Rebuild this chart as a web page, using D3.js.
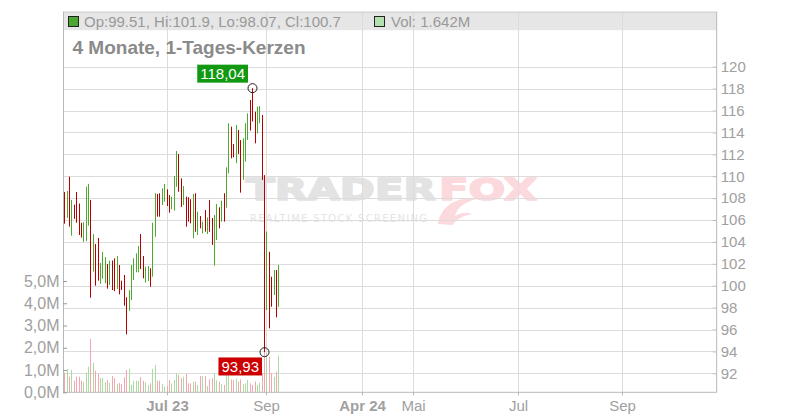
<!DOCTYPE html>
<html><head><meta charset="utf-8">
<script src="https://cdn.jsdelivr.net/npm/d3@7/dist/d3.min.js"></script>
<style>
html,body{margin:0;padding:0;background:#fff;}
svg{display:block;font-family:"Liberation Sans",Arial,sans-serif;}
</style></head>
<body>
<svg id="chart" width="800" height="420"></svg>
<script>
// ---- data ----
const highs = [108.56,108.65,109.96,107.83,107.4,108.56,107.5,105.75,105.8,109.04,
  109.3,107.83,104.72,103.8,104.36,102.07,103.1,102.62,101.98,102.28,
  102.3,102.5,102.7,101.89,100.46,100.98,98.94,99.6,101.89,102.5,
  102.96,103.63,104.72,102.71,101.74,101.8,101.59,105.75,108.44,108.38,
  108.44,108.9,109.29,108.8,108.28,108.13,110.02,112.3,112.03,109.8,
  109.1,108.13,108.07,107.89,108.37,108.44,106.76,106.36,105.85,106.91,
  106.24,107.83,106.18,106.46,107.46,107.16,107.76,108.44,110.81,114.83,
  114.52,112.94,114.68,114.22,113.3,113.46,114.83,115.74,116.96,118.04,
  115.89,116.35,116.41,115.59,110.1,104.95,103.1,100.82,101.43,101.43,101.9];
const lows = [105.66,106.2,105.4,104.57,106.1,105.75,104.63,104.4,104.0,104.08,
  105.48,98.9,101.28,100.0,100.46,100.18,100.64,100.22,99.73,100.06,
  99.6,99.5,99.7,99.21,99.6,98.17,95.56,97.7,98.7,100.52,
  101.23,101.23,101.52,100.67,100.28,100.43,99.9,100.82,104.47,106.3,
  106.3,107.37,107.67,107.28,106.67,106.98,106.85,109.04,108.58,107.2,
  107.37,105.39,105.85,105.7,104.33,104.93,104.63,105.24,104.78,104.93,
  104.72,104.93,103.72,101.83,104.17,105.24,105.85,105.85,107.12,110.26,
  111.63,111.73,111.18,112.03,108.5,109.66,111.33,113.31,114.16,115.0,
  113.0,113.92,114.83,109.65,93.93,97.78,96.1,98.08,99.15,97.11,98.07];
// u = close above open (green), d = close below open (red)
const dirs = ("d u d u d d d d u u u d u d d u u u d u d d u d d d d u u u " +
  "u u d d u u d u u d d u u d d u u u d d u d d d u d u d u d " +
  "u d d u u d u d u u d d u d d u u u d d d u u d d u d d u d u").split(" ");
const volumes = [0.88,1.04,0.70,1.00,0.52,0.70,0.70,0.52,0.46,0.88,
  1.15,2.40,1.33,0.97,0.82,0.64,0.64,0.46,0.55,0.42,
  0.73,0.64,0.37,0.42,0.37,0.68,1.00,1.05,0.33,0.52,
  0.52,0.52,0.68,0.52,0.45,0.33,0.40,1.05,1.23,0.52,
  0.52,0.37,0.25,0.28,0.55,0.40,0.55,0.85,0.78,0.63,
  0.70,0.82,0.40,0.40,0.48,0.48,0.33,0.73,0.73,0.73,
  0.28,0.58,0.63,0.86,0.55,0.48,0.37,0.33,0.78,1.00,
  0.58,0.55,0.62,0.48,0.58,0.37,0.40,0.55,0.40,0.33,
  0.48,0.33,0.43,0.86,1.80,1.76,1.60,0.86,0.70,0.93,1.642].map(v => v * 1e6);
const lastBar = {op: "99.51", hi: "101.9", lo: "98.07", cl: "100.7", vol: "1.642M"};
const titleText = "4 Monate, 1-Tages-Kerzen";
const priceTicks = [92,94,96,98,100,102,104,106,108,110,112,114,116,118,120];
const volTicks = [0,1e6,2e6,3e6,4e6,5e6];
const timeTickSlots = [43.0, 84.7, 125.1, 146.8, 190.9, 234.6];
const timeTickLabels = ["Jul 23","Sep","Apr 24","Mai","Jul","Sep"];
const timeTickBold = [true,false,true,false,false,false];
const maxLabel = "118,04", minLabel = "93,93";

// ---- layout ----
const L = 63, R = 716.7, T = 11.7, B = 392.3;
const svg = d3.select("#chart");
const x = d3.scaleLinear().domain([0, 90]).range([64.3, 278.3]);
const y = d3.scaleLinear().domain([92, 120]).range([373.3, 66.7]);
const yv = d3.scaleLinear().domain([0, 5e6]).range([B, 281]);
const px = i => Math.round(x(i)) + 0.5;
const GRID = "#dcdcdc", AX = "#b8b8b8", LBL = "#a0a0a0";
const GREEN = "#4caa2c", RED = "#b30000";

// header band
svg.append("rect").attr("x", L).attr("y", T).attr("width", R - L).attr("height", 18.5).attr("fill", "#e6e6e6");

// watermark
const wm = svg.append("g");
wm.append("text").attr("x", 246).attr("y", 200).text("TRADER")
  .attr("font-family", "DejaVu Sans").attr("font-weight", "bold").attr("font-size", 30)
  .attr("textLength", 190).attr("lengthAdjust", "spacingAndGlyphs").attr("fill", "#e3e3e3")
  .attr("stroke", "#e3e3e3").attr("stroke-width", 1.6).attr("stroke-linejoin", "round");
wm.append("text").attr("x", 439).attr("y", 200).text("FOX")
  .attr("font-family", "DejaVu Sans").attr("font-weight", "bold").attr("font-size", 30)
  .attr("textLength", 98).attr("lengthAdjust", "spacingAndGlyphs").attr("fill", "#fbd9dd")
  .attr("stroke", "#fbd9dd").attr("stroke-width", 1.6).attr("stroke-linejoin", "round");
wm.append("text").attr("x", 250).attr("y", 222).text("REALTIME STOCK SCREENING")
  .attr("font-family", "DejaVu Sans").attr("font-size", 10)
  .attr("textLength", 177).attr("lengthAdjust", "spacing").attr("fill", "#e4e4e4");
wm.append("path").attr("d", "M438,224 C440,208 455,196 476,199 C462,203 456,210 455,216 C462,212 468,212 472,214 C462,216 456,220 452,225 Z")
  .attr("fill", "#fbd9dd");

// gridlines
svg.append("g").selectAll("line").data(priceTicks).join("line")
  .attr("x1", L).attr("x2", R - 3.5).attr("y1", d => Math.round(y(d)) + 0.5).attr("y2", d => Math.round(y(d)) + 0.5)
  .attr("stroke", GRID).attr("stroke-width", 1);
svg.append("g").selectAll("line").data(timeTickSlots).join("line")
  .attr("x1", d => Math.round(x(d)) + 0.5).attr("x2", d => Math.round(x(d)) + 0.5).attr("y1", T).attr("y2", B)
  .attr("stroke", GRID).attr("stroke-width", 1);

// frame lines
svg.append("line").attr("x1", L).attr("x2", R).attr("y1", T + 0.5).attr("y2", T + 0.5).attr("stroke", "#cccccc");
svg.append("line").attr("x1", L + 0.5).attr("x2", L + 0.5).attr("y1", T).attr("y2", B).attr("stroke", AX);
svg.append("line").attr("x1", R).attr("x2", R).attr("y1", T).attr("y2", B).attr("stroke", AX);
svg.append("line").attr("x1", L).attr("x2", R).attr("y1", B).attr("y2", B).attr("stroke", AX);

// header text
svg.append("rect").attr("x", 68.5).attr("y", 16.5).attr("width", 10).attr("height", 10)
  .attr("fill", "#4aa832").attr("stroke", "#222");
svg.append("text").attr("x", 84).attr("y", 26.8).attr("font-size", 15).attr("fill", "#999")
  .text(`Op:${lastBar.op}, Hi:${lastBar.hi}, Lo:${lastBar.lo}, Cl:${lastBar.cl}`);
svg.append("rect").attr("x", 374.5).attr("y", 16.5).attr("width", 10).attr("height", 10)
  .attr("fill", "#b4e0b0").attr("stroke", "#222");
svg.append("text").attr("x", 391).attr("y", 26.8).attr("font-size", 15).attr("fill", "#999")
  .text(`Vol: ${lastBar.vol}`);
svg.append("text").attr("x", 72.5).attr("y", 54).attr("font-size", 19).attr("font-weight", "bold")
  .attr("fill", "#8a8a8a").text(titleText);

// volume bars
svg.append("g").selectAll("line").data(volumes).join("line")
  .attr("x1", (d, i) => px(i)).attr("x2", (d, i) => px(i))
  .attr("y1", B).attr("y2", d => yv(d))
  .attr("stroke", (d, i) => dirs[i] === "u" ? "#a9dca1" : "#f3a6b0").attr("stroke-width", 1);

// candles (high-low lines)
svg.append("g").selectAll("line").data(highs).join("line")
  .attr("x1", (d, i) => px(i)).attr("x2", (d, i) => px(i))
  .attr("y1", d => y(d)).attr("y2", (d, i) => y(lows[i]))
  .attr("stroke", (d, i) => dirs[i] === "u" ? GREEN : RED).attr("stroke-width", 1);

// price axis (right)
const ay = svg.append("g").attr("transform", `translate(${R},0)`)
  .call(d3.axisRight(y).tickValues(priceTicks).tickSize(-4).tickSizeOuter(0).tickPadding(4).tickFormat(d3.format("d")));
ay.select(".domain").remove();
ay.selectAll("line").attr("stroke", AX);
ay.selectAll("text").attr("font-size", 15).attr("fill", LBL).attr("font-family", null);

// volume axis (left)
const av = svg.append("g").attr("transform", `translate(${L},0)`)
  .call(d3.axisLeft(yv).tickValues(volTicks).tickSize(-4).tickSizeOuter(0).tickPadding(3.5)
    .tickFormat(d => (d / 1e6).toFixed(1).replace(".", ",") + "M"));
av.select(".domain").remove();
av.selectAll("line").attr("stroke", "#999");
av.selectAll("text").attr("font-size", 16).attr("fill", LBL).attr("font-family", null);

// time axis
const ax = svg.append("g").attr("transform", `translate(0,${B})`)
  .call(d3.axisBottom(x).tickValues(timeTickSlots).tickSize(3).tickSizeOuter(0)
    .tickFormat((d, i) => timeTickLabels[i]));
ax.select(".domain").remove();
ax.selectAll(".tick").attr("transform", d => `translate(${Math.round(x(d)) + 0.5},0)`);
ax.selectAll("line").attr("stroke", AX);
ax.selectAll("text").attr("y", 19).attr("dy", 0).attr("font-size", 15).attr("fill", LBL)
  .attr("font-family", null).attr("font-weight", (d, i) => timeTickBold[i] ? "bold" : "normal");

// extreme markers
const iMax = d3.maxIndex(highs), iMin = d3.minIndex(lows);
function marker(i, val, label, color, above) {
  const cx = px(i), cy = y(val);
  svg.append("circle").attr("cx", cx).attr("cy", cy).attr("r", 4.5)
    .attr("fill", "none").attr("stroke", "#222").attr("stroke-width", 1);
  const g = svg.append("g");
  const t = g.append("text").attr("font-size", 15).attr("fill", "#fff").text(label);
  const w = t.node().getComputedTextLength() + 6, h = 18;
  const bx = cx - (above ? 4.5 : 2.5) - w;
  const by = above ? cy - 5.5 - h : cy + 5.3;
  g.insert("rect", "text").attr("x", bx).attr("y", by).attr("width", w).attr("height", h).attr("fill", color);
  t.attr("x", bx + 3).attr("y", by + 14.5);
}
marker(iMax, highs[iMax], maxLabel, "#119911", true);
marker(iMin, lows[iMin], minLabel, "#cc0000", false);
</script>
</body></html>
